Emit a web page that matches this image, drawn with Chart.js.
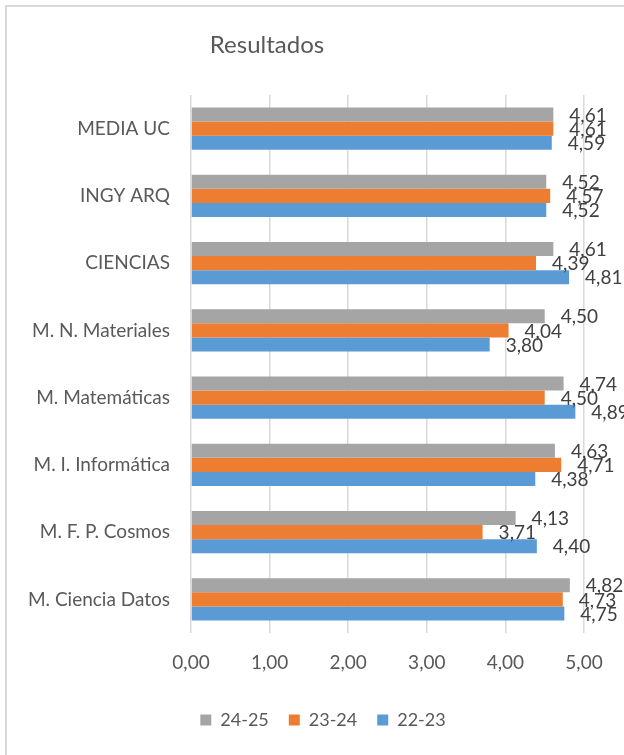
<!DOCTYPE html>
<html>
<head>
<meta charset="utf-8">
<title>Resultados</title>
<script src="https://cdn.jsdelivr.net/npm/chart.js@4"></script>
<style>
  body { margin: 0; background: #fff; overflow: hidden; }
  #wrap { position: relative; width: 624px; height: 755px; }
  #marco { position: absolute; left: 5px; top: 5px; width: 700px; height: 800px;
           border: 2px solid #d9d9d9; pointer-events: none; }
</style>
</head>
<body>
<div id="wrap">
  <canvas id="myChart" width="624" height="755"></canvas>
  <div id="marco"></div>
</div>
<script>
const titulo = "Resultados";
const categorias = ["MEDIA UC", "INGY ARQ", "CIENCIAS", "M. N. Materiales",
  "M. Matemáticas", "M. I. Informática", "M. F. P. Cosmos", "M. Ciencia Datos"];
const cursos = ["24-25", "23-24", "22-23"];
const colores = ["#a5a5a5", "#ed7d31", "#5b9bd5"];
const valores2425 = [4.61, 4.52, 4.61, 4.50, 4.74, 4.63, 4.13, 4.82];
const valores2324 = [4.61, 4.57, 4.39, 4.04, 4.50, 4.71, 3.71, 4.73];
const valores2223 = [4.59, 4.52, 4.81, 3.80, 4.89, 4.38, 4.40, 4.75];
const ticksX = [0, 1, 2, 3, 4, 5];

const fuente = "Lato, 'Liberation Sans', sans-serif";
const gris = "#595959";

const formato = (v) => v.toFixed(2).replace(".", ",");

// titulo dibujado a mano para poder moverlo como en Excel
const pluginTitulo = {
  id: "tituloExcel",
  afterDraw(chart) {
    const ctx = chart.ctx;
    ctx.save();
    ctx.font = "24px " + fuente;
    ctx.fillStyle = gris;
    ctx.textAlign = "center";
    ctx.textBaseline = "middle";
    ctx.fillText(titulo, 267, 45);
    ctx.restore();
  },
};

// la leyenda de Excel no queda centrada en el canvas, la muevo un poco
const pluginLeyenda = {
  id: "moverLeyenda",
  afterLayout(chart) {
    chart.legend.left += 26;
    chart.legend.right += 26;
  },
};

// etiquetas de valor al final de cada barra
const pluginEtiquetas = {
  id: "etiquetas",
  afterDatasetsDraw(chart) {
    const ctx = chart.ctx;
    ctx.save();
    ctx.font = "19px " + fuente;
    ctx.fillStyle = "#404040";
    ctx.textAlign = "left";
    ctx.textBaseline = "middle";
    chart.data.datasets.forEach((ds, i) => {
      const meta = chart.getDatasetMeta(i);
      meta.data.forEach((bar, j) => {
        ctx.fillText(formato(ds.data[j]), bar.x + 16, bar.y + 1);
      });
    });
    ctx.restore();
  },
};

const series = [valores2425, valores2324, valores2223];
const datasets = cursos.map((curso, i) => ({
  label: curso,
  data: series[i],
  backgroundColor: colores[i],
  borderWidth: 0,
  categoryPercentage: 0.63,
  barPercentage: 1,
}));

const config = {
  type: "bar",
  data: { labels: categorias, datasets },
  options: {
    indexAxis: "y",
    responsive: false,
    animation: false,
    layout: { padding: { top: 95, right: 40, left: 10, bottom: 16 } },
    scales: {
      x: {
        min: 0,
        max: 5,
        afterBuildTicks: (scale) => { scale.ticks = ticksX.map((v) => ({ value: v })); },
        afterFit: (scale) => { scale.height = 58; },
        ticks: {
          padding: 18,
          color: gris,
          font: { family: fuente, size: 19 },
          callback: (v) => formato(v),
        },
        grid: { color: "#d9d9d9", lineWidth: 1.5, drawTicks: false },
        border: { display: false },
      },
      y: {
        afterFit: (scale) => { scale.width = 181; },
        ticks: {
          padding: 21,
          color: gris,
          font: { family: fuente, size: 19 },
        },
        grid: { display: false, drawTicks: false },
        border: { display: false },
      },
    },
    plugins: {
      title: { display: false },
      tooltip: { enabled: false },
      legend: {
        position: "bottom",
        labels: {
          boxWidth: 11,
          boxHeight: 11,
          padding: 20,
          color: gris,
          font: { family: fuente, size: 18 },
        },
      },
    },
  },
  plugins: [pluginTitulo, pluginLeyenda, pluginEtiquetas],
};

new Chart(document.getElementById("myChart"), config);
</script>
</body>
</html>
